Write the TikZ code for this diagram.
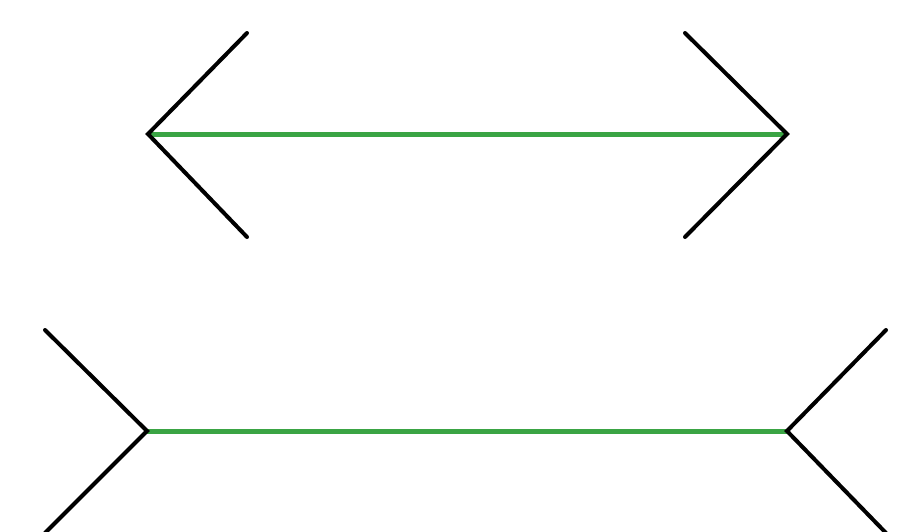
\documentclass[tikz,border=0pt]{standalone}
\begin{document}
\begin{tikzpicture}[x=1pt,y=-1pt,
  fin/.style={draw=black,line width=4pt,line cap=round,line join=miter},
  shaft/.style={draw=lgreen,line width=5pt},
]
\definecolor{lgreen}{RGB}{58,164,68}
\fill[white] (0,0) rectangle (897,531);
\useasboundingbox (0,0) rectangle (897,531);
% top figure
\coordinate (tl) at (148,134);
\coordinate (tr) at (787,134);
\coordinate (tlu) at (247,33);
\coordinate (tld) at (247,237);
\coordinate (tru) at (685,33);
\coordinate (trd) at (685,237);
\draw[shaft] (tl) -- (tr);
\draw[fin] (tlu) -- (tl) -- (tld);
\draw[fin] (tru) -- (tr) -- (trd);
% bottom figure
\coordinate (bl) at (147,431);
\coordinate (br) at (787,431);
\coordinate (blu) at (45,330);
\coordinate (bld) at (45,533);
\coordinate (bru) at (886,330);
\coordinate (brd) at (886,533);
\draw[shaft] (bl) -- (br);
\draw[fin] (blu) -- (bl) -- (bld);
\draw[fin] (bru) -- (br) -- (brd);
\end{tikzpicture}
\end{document}
